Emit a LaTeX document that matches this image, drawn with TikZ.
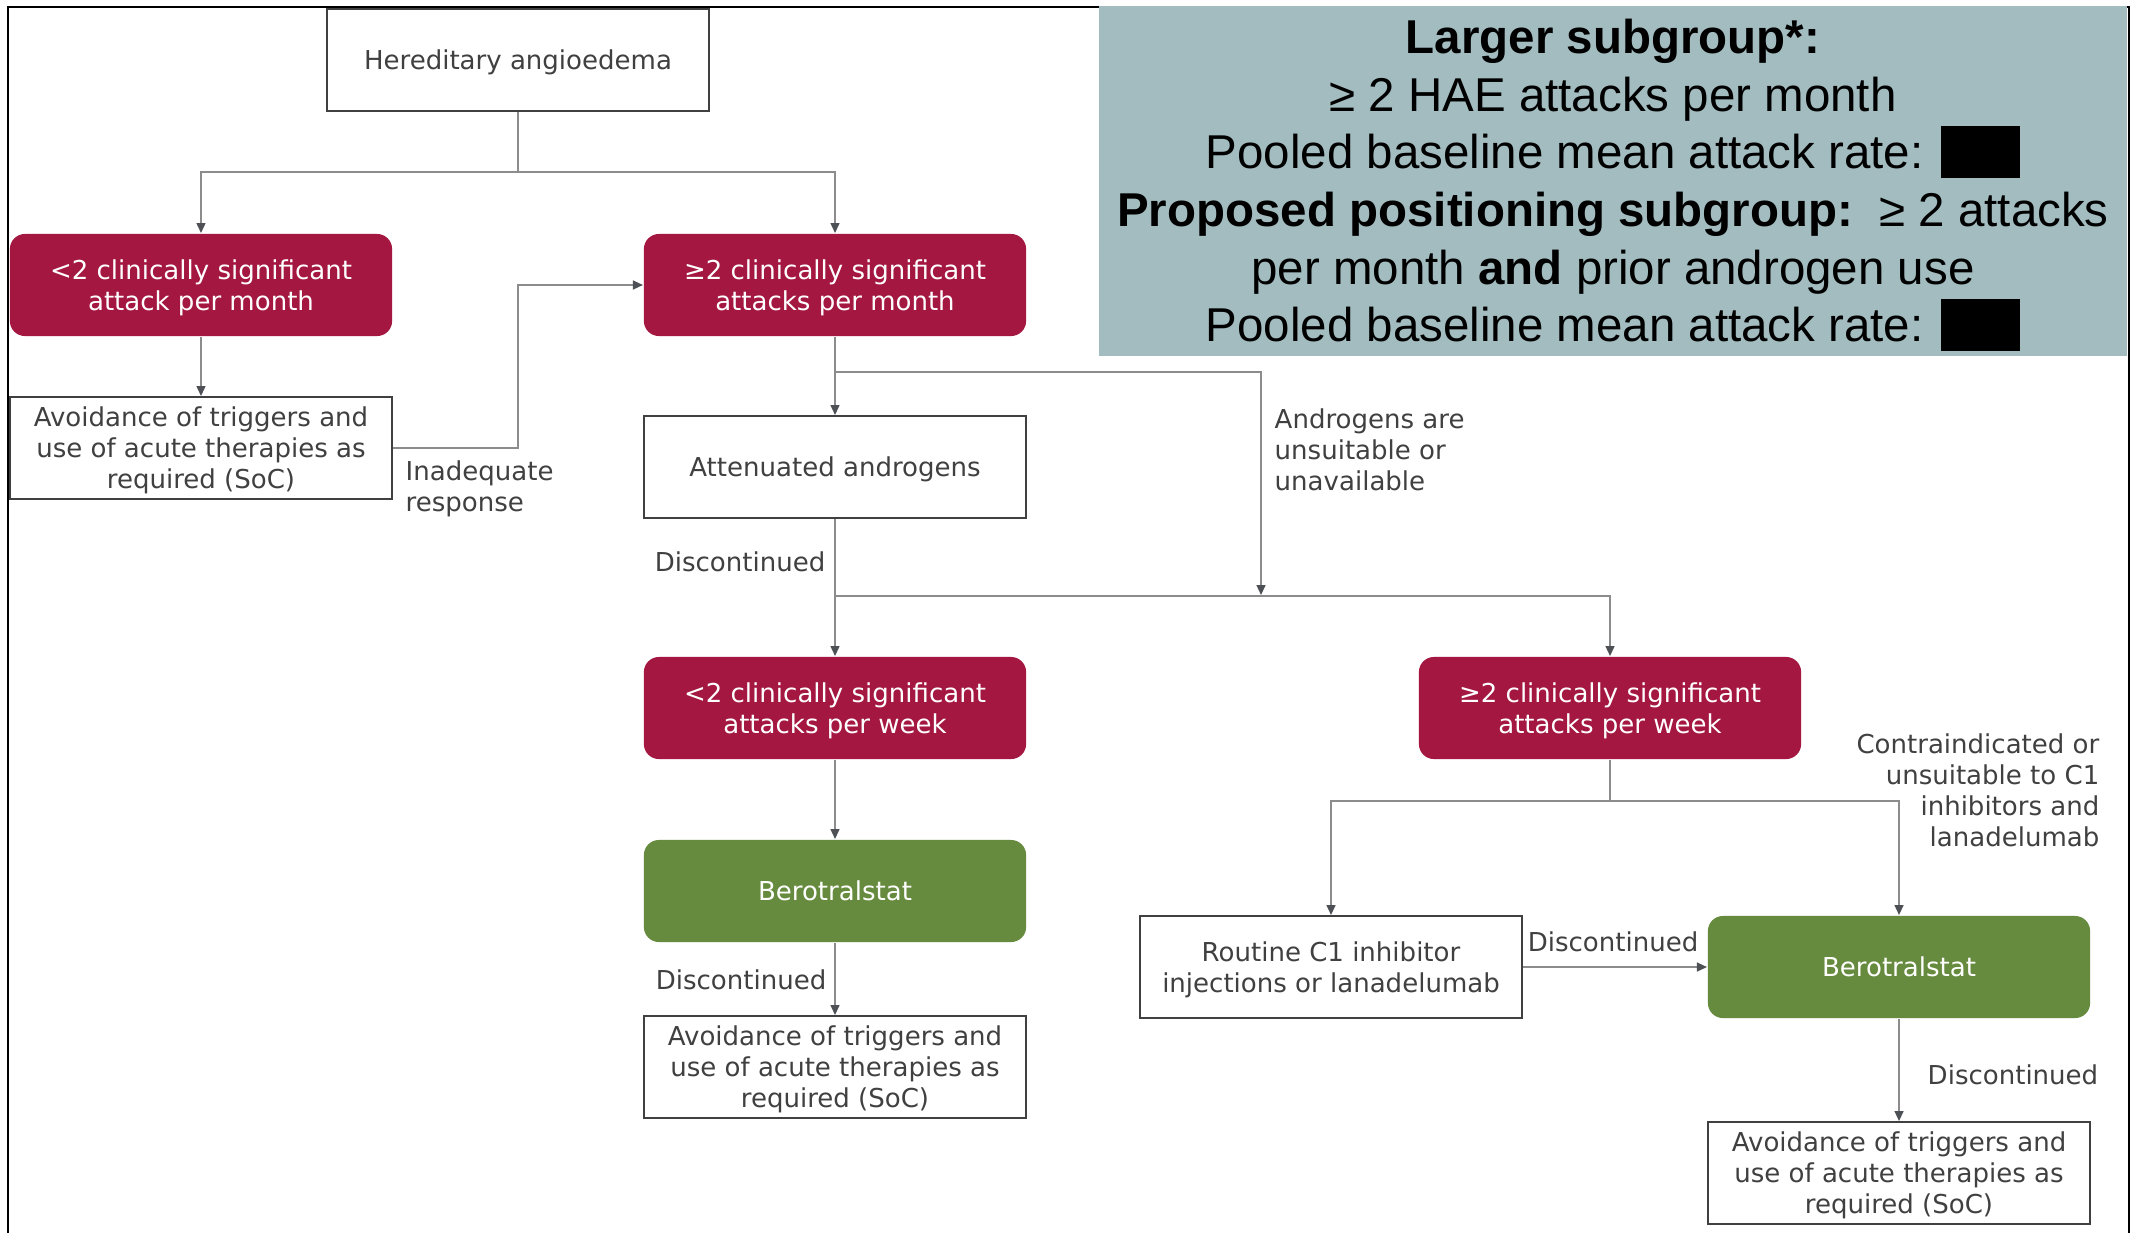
\documentclass[tikz,border=0pt]{standalone}
\usepackage{fontspec}
\setmainfont{DejaVu Sans}
\newfontfamily\infofont{Liberation Sans}
\usepackage{xcolor}
\usepackage{tikz}
\usetikzlibrary{arrows.meta, positioning}
\definecolor{haered}{RGB}{164, 23, 65}
\definecolor{haegreen}{RGB}{103, 139, 62}
\definecolor{infofill}{RGB}{163, 188, 192}
\definecolor{boxgray}{RGB}{64, 64, 64}
\definecolor{linegray}{RGB}{140, 140, 140}
\definecolor{tipgray}{RGB}{77, 80, 85}
\definecolor{textgray}{RGB}{64, 64, 64}
\newcommand{\flowfont}{\fontsize{7.4}{8.8}\selectfont}
\newcommand{\redacted}{\rule[-0.09cm]{0.79cm}{0.52cm}}

\begin{document}
\begin{tikzpicture}[
    x=0.01cm, y=-0.01cm,
    box/.style={draw=boxgray, line width=0.55pt, fill=white, text=textgray, minimum width=3.82cm, minimum height=1.02cm, inner sep=0pt, align=center, font=\flowfont, text depth=0pt},
    attackbox/.style={box, draw=none, fill=haered, text=white, rounded corners=0.15cm},
    drugbox/.style={box, draw=none, fill=haegreen, text=white, rounded corners=0.15cm},
    note/.style={text=textgray, inner sep=0pt, font=\flowfont},
    infotext/.style={inner sep=0pt, align=center, font=\infofont\fontsize{13.5}{16.4}\selectfont},
    link/.style={draw=linegray, line width=0.4pt},
    arrow/.style={link, -{Triangle[length=0.1cm, width=0.09cm, color=tipgray]}},
]
    \useasboundingbox (0,0) rectangle (2137,1233);
    \fill[white] (0,0) rectangle (2137,1233);

    % Frame
    \draw[line width=0.7pt] (8,1233) -- (8,7) -- (2129,7) -- (2129,1233);

    % Subgroup panel
    \fill[infofill] (1099,6) rectangle (2127,356);
    \node[infotext] (subgroups) at (1613,185) {%
        {\bfseries Larger subgroup*:}\\
        ≥ 2 HAE attacks per month\\
        Pooled baseline mean attack rate: \redacted\\
        {\bfseries Proposed positioning subgroup:}\ \ ≥ 2 attacks\\
        per month {\bfseries and} prior androgen use\\
        Pooled baseline mean attack rate: \redacted};

    % Monthly attack rate
    \node[box] (hae) at (518,60) {Hereditary angioedema};
    \node[attackbox] (lowmonth) at (201,285) {<2 clinically significant\\attack per month};
    \node[attackbox] (highmonth) at (835,285) {≥2 clinically significant\\attacks per month};
    \node[box] (soclow) at (201,448) {Avoidance of triggers and\\use of acute therapies as\\required (SoC)};
    \node[box] (androgens) at (835,467) {Attenuated androgens};

    % Weekly attack rate
    \node[attackbox] (lowweek) at (835,708) {<2 clinically significant\\attacks per week};
    \node[attackbox] (highweek) at (1610,708) {≥2 clinically significant\\attacks per week};
    \node[drugbox] (berolow) at (835,891) {Berotralstat};
    \node[box] (socmid) at (835,1067) {Avoidance of triggers and\\use of acute therapies as\\required (SoC)};
    \node[box] (routine) at (1331,967) {Routine C1 inhibitor\\injections or lanadelumab};
    \node[drugbox] (berohigh) at (1899,967) {Berotralstat};
    \node[box] (sochigh) at (1899,1173) {Avoidance of triggers and\\use of acute therapies as\\required (SoC)};

    % Branch points
    \coordinate (split1) at (518,172);
    \coordinate (retry) at (518,285);
    \coordinate (split2) at (835,372);
    \coordinate (unsuit) at (1261,595);
    \coordinate (split3) at (835,596);
    \coordinate (split4) at (1610,801);

    % Connectors
    \draw[link] (hae) -- (split1);
    \draw[arrow] (split1) -| (lowmonth);
    \draw[arrow] (split1) -| (highmonth);
    \draw[arrow] (lowmonth) -- (soclow);
    \draw[arrow] (soclow.east) -| (retry) -- (highmonth.west);
    \draw[arrow] (highmonth) -- (androgens);
    \draw[arrow] (split2) -| (unsuit);
    \draw[arrow] (androgens) -- (lowweek);
    \draw[arrow] (split3) -| (highweek);
    \draw[arrow] (lowweek) -- (berolow);
    \draw[arrow] (berolow) -- (socmid);
    \draw[link] (highweek) -- (split4);
    \draw[arrow] (split4) -| (routine);
    \draw[arrow] (split4) -| (berohigh);
    \draw[arrow] (routine) -- (berohigh);
    \draw[arrow] (berohigh) -- (sochigh);

    % Labels
    \node[note, anchor=west, align=left] (inadequate) at (405,489) {Inadequate\\response};
    \node[note, anchor=west, align=left] (unsuitable) at (1274,450) {Androgens are\\unsuitable or\\unavailable};
    \node[note, anchor=east] (stopandro) at (826,562) {Discontinued};
    \node[note, anchor=east] (stopberolow) at (827,980) {Discontinued};
    \node[note] (stoproutine) at (1613,942) {Discontinued};
    \node[note, anchor=west] (stopberohigh) at (1927,1075) {Discontinued};
    \node[note, anchor=east, align=right] (contra) at (2100,790) {Contraindicated or\\unsuitable to C1\\inhibitors and\\lanadelumab};
\end{tikzpicture}
\end{document}
